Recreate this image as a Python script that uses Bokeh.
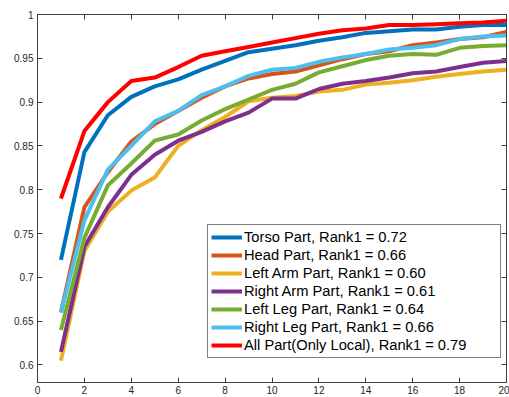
from bokeh.plotting import figure
from bokeh.models import Range1d, LinearAxis, FixedTicker, Legend, LegendItem
from bokeh.embed import file_html
from bokeh.resources import INLINE

ranks = list(range(1, 21))
torso = [0.72, 0.843, 0.885, 0.906, 0.918, 0.926, 0.937, 0.947, 0.957, 0.961,
         0.965, 0.970, 0.974, 0.979, 0.981, 0.983, 0.983, 0.986, 0.988, 0.988]
head = [0.66, 0.78, 0.82, 0.855, 0.875, 0.89, 0.905, 0.918, 0.927, 0.932,
        0.935, 0.942, 0.949, 0.955, 0.958, 0.965, 0.968, 0.972, 0.974, 0.98]
left_arm = [0.605, 0.73, 0.775, 0.799, 0.814, 0.85, 0.868, 0.883, 0.901, 0.905,
            0.907, 0.912, 0.914, 0.92, 0.922, 0.925, 0.929, 0.932, 0.935, 0.937]
right_arm = [0.615, 0.735, 0.78, 0.817, 0.84, 0.856, 0.866, 0.878, 0.888, 0.904,
             0.904, 0.915, 0.921, 0.924, 0.928, 0.933, 0.935, 0.94, 0.945, 0.947]
left_leg = [0.64, 0.745, 0.805, 0.83, 0.856, 0.863, 0.879, 0.892, 0.903, 0.914,
            0.921, 0.934, 0.941, 0.948, 0.953, 0.955, 0.954, 0.962, 0.964, 0.965]
right_leg = [0.66, 0.765, 0.823, 0.85, 0.878, 0.89, 0.908, 0.918, 0.93, 0.937,
             0.939, 0.946, 0.951, 0.955, 0.96, 0.962, 0.965, 0.972, 0.975, 0.976]
all_part = [0.79, 0.867, 0.90, 0.924, 0.928, 0.94, 0.953, 0.958, 0.963, 0.968,
            0.973, 0.978, 0.982, 0.984, 0.988, 0.988, 0.989, 0.990, 0.991, 0.993]

series_labels = ["Torso Part, Rank1 = 0.72", "Head Part, Rank1 = 0.66",
                 "Left Arm Part, Rank1 = 0.60", "Right Arm Part, Rank1 = 0.61",
                 "Left Leg Part, Rank1 = 0.64", "Right Leg Part, Rank1 = 0.66",
                 "All Part(Only Local), Rank1 = 0.79"]
series_values = [torso, head, left_arm, right_arm, left_leg, right_leg, all_part]
colors = ["#0072BD", "#D95319", "#EDB120", "#7E2F8E", "#77AC30", "#4DBEEE", "#FF0000"]

x_ticks = [0, 2, 4, 6, 8, 10, 12, 14, 16, 18, 20]
y_ticks = [0.6, 0.65, 0.7, 0.75, 0.8, 0.85, 0.9, 0.95, 1.0]
y_tick_labels = ["0.6", "0.65", "0.7", "0.75", "0.8", "0.85", "0.9", "0.95", "1"]

FONT = "Liberation Sans"
AX = "#404040"

p = figure(width=509, height=397, output_backend="svg", toolbar_location=None,
           x_range=Range1d(0, 20), y_range=Range1d(0.58, 1.0),
           min_border_left=37, min_border_right=3, min_border_top=14, min_border_bottom=15)
p.xgrid.visible = False
p.ygrid.visible = False
p.outline_line_color = AX
p.outline_line_width = 1

def style_axis(ax, ticks, labels=True):
    ax.ticker = FixedTicker(ticks=ticks)
    ax.minor_tick_line_color = None
    ax.major_tick_in = 5
    ax.major_tick_out = 0
    ax.axis_line_color = AX
    ax.major_tick_line_color = AX
    ax.major_label_text_font = FONT
    ax.major_label_text_color = "#262626"
    ax.major_label_text_font_size = "10px"
    if labels:
        ax.major_label_standoff = 4
    else:
        ax.major_label_overrides = {t: "" for t in ticks}
        ax.major_label_standoff = 0

style_axis(p.xaxis[0], x_ticks)
p.xaxis[0].major_label_standoff = 3
style_axis(p.yaxis[0], y_ticks)
p.yaxis[0].major_label_overrides = dict(zip(y_ticks, y_tick_labels))

top = LinearAxis()
style_axis(top, x_ticks, labels=False)
p.add_layout(top, "above")
right = LinearAxis()
style_axis(right, y_ticks, labels=False)
p.add_layout(right, "right")

items = []
for lab, vals, col in zip(series_labels, series_values, colors):
    r = p.line(ranks, vals, line_color=col, line_width=4)
    items.append(LegendItem(label=lab, renderers=[r]))

leg = Legend(items=items, location=(170, 24))
leg.label_text_font = FONT
leg.label_text_font_size = "14.7px"
leg.label_text_color = "#000000"
leg.label_height = 18
leg.label_width = 253
leg.glyph_height = 18
leg.glyph_width = 31
leg.label_standoff = 2
leg.spacing = 0
leg.padding = 3
leg.margin = 0
leg.border_line_color = "#000000"
leg.border_line_width = 1
leg.background_fill_alpha = 1
p.add_layout(leg, "center")

open("out.html", "w").write(file_html(p, INLINE))
